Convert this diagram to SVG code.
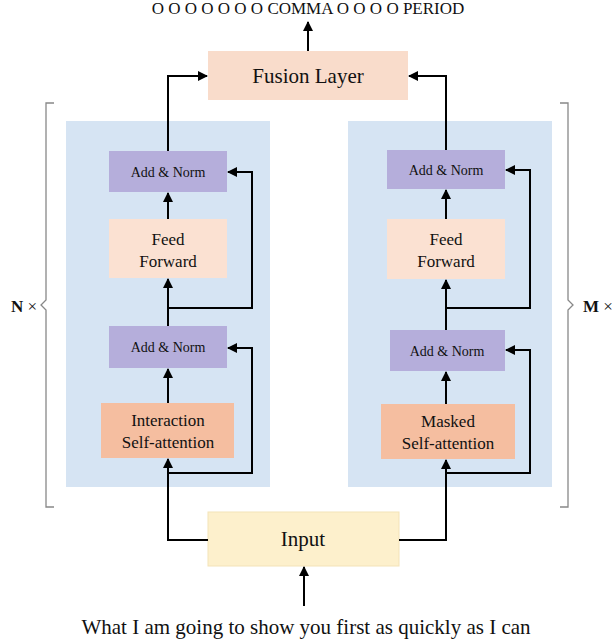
<svg xmlns="http://www.w3.org/2000/svg" width="616" height="640" viewBox="0 0 616 640">
<style>
text{font-family:"Liberation Serif","Times New Roman",serif;fill:#111;text-anchor:middle}
.an{fill:#b5aedb}.ff{fill:#fbe1d2}.sa{fill:#f5bea0}.pn{fill:#d6e4f3}
.c{fill:none;stroke:#000;stroke-width:2}
.b{fill:none;stroke:#888;stroke-width:1.3}
</style>
<defs><marker id="a" viewBox="0 0 10 10" refX="9" refY="5" markerWidth="5" markerHeight="5" orient="auto"><path d="M0,0L10,5L0,10z" fill="#000"/></marker></defs>
<rect width="616" height="640" fill="#fff"/>
<text x="308" y="14" font-size="17">O O O O O O O COMMA O O O O PERIOD</text>
<g id="left-panel"><rect class="pn" x="66" y="121" width="204" height="366"/></g>
<g id="right-panel"><rect class="pn" x="348" y="121" width="204" height="366"/></g>
<g id="fusion"><rect x="208" y="51" width="200" height="49" fill="#f9dccb"/><text x="308" y="83" font-size="21">Fusion Layer</text></g>
<g id="l-an1"><rect class="an" x="109" y="151" width="118" height="41"/><text x="168" y="177" font-size="14">Add &amp; Norm</text></g>
<g id="l-ff"><rect class="ff" x="109" y="219" width="118" height="59"/><text x="168" y="245" font-size="17">Feed</text><text x="168" y="267" font-size="17">Forward</text></g>
<g id="l-an2"><rect class="an" x="109" y="326" width="118" height="42"/><text x="168" y="352" font-size="14">Add &amp; Norm</text></g>
<g id="l-sa"><rect class="sa" x="101" y="403" width="133" height="55"/><text x="168" y="426" font-size="17">Interaction</text><text x="168" y="448" font-size="17">Self-attention</text></g>
<g id="r-an1"><rect class="an" x="387" y="150" width="118" height="39"/><text x="446" y="175" font-size="14">Add &amp; Norm</text></g>
<g id="r-ff"><rect class="ff" x="387" y="219" width="118" height="60"/><text x="446" y="245" font-size="17">Feed</text><text x="446" y="267" font-size="17">Forward</text></g>
<g id="r-an2"><rect class="an" x="390" y="330" width="115" height="41"/><text x="447" y="356" font-size="14">Add &amp; Norm</text></g>
<g id="r-sa"><rect class="sa" x="381" y="404" width="134" height="55"/><text x="448" y="427" font-size="17">Masked</text><text x="448" y="449" font-size="17">Self-attention</text></g>
<g id="input"><rect x="208" y="512" width="191" height="54" fill="#fdf0cc" stroke="#f3e3b8"/><text x="303" y="546" font-size="21">Input</text></g>
<g id="connectors">
<path class="c" marker-end="url(#a)" d="M308,51V22"/>
<path class="c" marker-end="url(#a)" d="M168,151V76H207"/>
<path class="c" marker-end="url(#a)" d="M446,150V76H409"/>
<path class="c" marker-end="url(#a)" d="M168,219V193"/>
<path class="c" marker-end="url(#a)" d="M168,326V279"/>
<path class="c" marker-end="url(#a)" d="M168,308H252V172H228"/>
<path class="c" marker-end="url(#a)" d="M168,403V369"/>
<path class="c" marker-end="url(#a)" d="M208,540H168V459"/>
<path class="c" marker-end="url(#a)" d="M168,473H252V348H228"/>
<path class="c" marker-end="url(#a)" d="M446,219V190"/>
<path class="c" marker-end="url(#a)" d="M446,330V280"/>
<path class="c" marker-end="url(#a)" d="M446,308H530V170H506"/>
<path class="c" marker-end="url(#a)" d="M446,404V372"/>
<path class="c" marker-end="url(#a)" d="M399,540H446V460"/>
<path class="c" marker-end="url(#a)" d="M446,473H530V350H506"/>
<path class="c" marker-end="url(#a)" d="M304,606V567"/>
</g>
<g id="brackets">
<path class="b" d="M54,103H46V300L41,305L46,310V507H54"/>
<path class="b" d="M560,103H568V300L573,305L568,310V507H560"/>
<text x="24" y="312" font-size="17" font-weight="bold">N <tspan font-weight="normal">×</tspan></text>
<text x="598" y="312" font-size="17" font-weight="bold">M <tspan font-weight="normal">×</tspan></text>
</g>
<text x="306" y="634" font-size="21">What I am going to show you first as quickly as I can</text>
</svg>
